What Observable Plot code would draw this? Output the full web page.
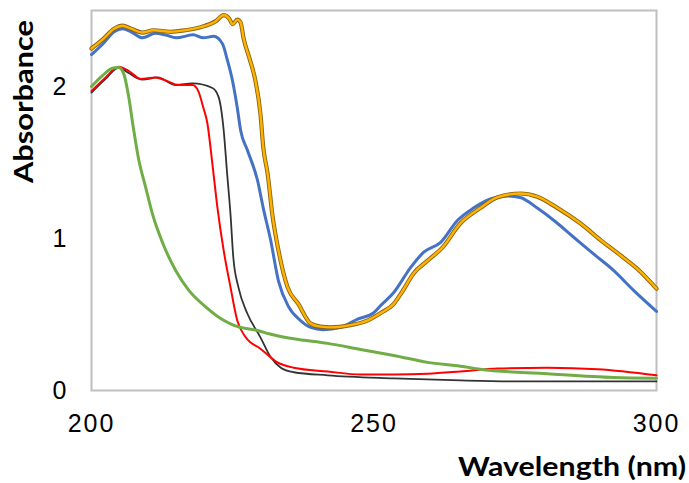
<!DOCTYPE html>
<html><head><meta charset="utf-8">
<script src="https://cdn.jsdelivr.net/npm/d3@7"></script>
<script src="https://cdn.jsdelivr.net/npm/@observablehq/plot@0.6"></script>
<style>
body{margin:0;background:#fff}
#chart svg{display:block}
</style>
</head><body><div id="chart"></div>
<script>
// Axis ticks
const xTicks = [200, 250, 300];
const yTicks = [0, 1, 2];
const xTitle = "Wavelength (nm)";
const yTitle = "Absorbance";

// Series: [wavelength nm, absorbance]
const orangeSeries = [[200,2.25],[202,2.31],[204,2.38],[205.5,2.40],[207,2.38],[209,2.355],[211,2.37],[214,2.36],[216.6,2.37],[219.3,2.39],[222,2.43],[223.4,2.47],[224.3,2.45],[225,2.41],[225.8,2.44],[226.4,2.42],[226.9,2.32],[228,2.18],[229,2.04],[229.9,1.82],[230.4,1.60],[231.2,1.42],[232,1.16],[233.1,0.92],[234.7,0.68],[236.6,0.57],[238.8,0.44],[240.5,0.42],[242.3,0.415],[245.8,0.43],[248.8,0.46],[251.2,0.51],[253.5,0.57],[255,0.65],[257,0.77],[259.5,0.855],[262.1,0.94],[265.3,1.10],[268.8,1.20],[271.8,1.27],[275.9,1.296],[278.9,1.275],[282.5,1.20],[286.5,1.10],[290.1,0.99],[293.6,0.89],[297.2,0.78],[300,0.67]];
const blueSeries = [[200,2.21],[202,2.28],[204,2.36],[205.5,2.38],[207,2.36],[209,2.32],[211.3,2.35],[213,2.34],[215,2.32],[218,2.34],[219.8,2.32],[221.6,2.33],[223.2,2.28],[224,2.18],[225,2.03],[225.8,1.86],[226.4,1.71],[227.6,1.58],[229.4,1.38],[230.4,1.20],[231.7,0.99],[233.1,0.72],[234.9,0.55],[237,0.46],[238.8,0.415],[241,0.40],[244.1,0.415],[247.1,0.47],[249.9,0.51],[251.2,0.56],[253.5,0.645],[256.5,0.81],[258.8,0.91],[261.8,0.975],[264.8,1.12],[267.6,1.20],[270.6,1.26],[273.6,1.28],[275.9,1.27],[278.9,1.20],[281.8,1.12],[285.3,1.01],[288.8,0.90],[292.4,0.79],[295.9,0.66],[300,0.52]];
const redSeries = [[200,1.97],[202.5,2.06],[204.8,2.13],[206.5,2.105],[208.7,2.05],[211.3,2.06],[213.1,2.04],[215.4,2.01],[217.9,2.01],[218.9,1.97],[219.8,1.86],[220.5,1.76],[221.4,1.49],[222.3,1.20],[223.4,0.92],[224.6,0.68],[225.8,0.46],[227.3,0.35],[229.9,0.275],[232.9,0.185],[235.8,0.15],[241.8,0.125],[247.6,0.105],[253.5,0.105],[259.5,0.11],[265.3,0.125],[271.9,0.145],[280.7,0.15],[289.6,0.14],[300,0.10]];
const blackSeries = [[200,1.96],[202.5,2.05],[204.8,2.125],[206.5,2.09],[209,2.045],[211.7,2.06],[214.9,2.01],[217.9,2.02],[221.4,1.99],[222.5,1.93],[223.4,1.71],[224,1.43],[224.6,1.16],[225.1,0.875],[226,0.68],[227.6,0.505],[229.9,0.35],[231.7,0.22],[233.5,0.15],[235.8,0.12],[241.8,0.10],[253.5,0.08],[265.3,0.066],[274.7,0.06],[300,0.06]];
const greenSeries = [[200,2.00],[201.9,2.07],[203.7,2.12],[204.8,2.125],[205.7,2.085],[206.5,1.95],[207.4,1.73],[208.3,1.53],[209.6,1.335],[210.8,1.16],[212.6,0.97],[214.9,0.79],[217.2,0.66],[220.2,0.55],[223,0.47],[225.1,0.43],[229.9,0.39],[231.2,0.375],[235.8,0.34],[241.8,0.31],[247.6,0.27],[253.5,0.23],[259.5,0.185],[265.3,0.16],[268.8,0.14],[280.7,0.11],[292.4,0.085],[300,0.08]];

const toRows = (arr) => arr.map(([nm, a]) => ({nm, a}));
const lineOpts = {x: "nm", y: "a", curve: "monotone-x", strokeLinejoin: "round", strokeLinecap: "round"};

const chart = Plot.plot({
  width: 689,
  height: 483,
  marginLeft: 91,
  marginRight: 33,
  marginTop: 10,
  marginBottom: 93,
  style: {fontFamily: "'Liberation Sans', Arial, sans-serif", background: "#fff"},
  x: {domain: [200, 300]},
  y: {domain: [0, 2.5]},
  marks: [
    Plot.axisX({ticks: xTicks, tickSize: 0, tickPadding: 24, fontSize: 25, label: null, tickFormat: d => String(d)}),
    Plot.axisY({ticks: yTicks, tickSize: 0, tickPadding: 25, fontSize: 25, label: null, tickFormat: d => String(d)}),
    Plot.frame({stroke: "#bfbfbf", strokeWidth: 2}),
    Plot.line(toRows(blackSeries), {...lineOpts, stroke: "#333333", strokeWidth: 1.8}),
    Plot.line(toRows(redSeries), {...lineOpts, stroke: "#ff0000", strokeWidth: 2}),
    Plot.line(toRows(greenSeries), {...lineOpts, stroke: "#70ad47", strokeWidth: 3}),
    Plot.line(toRows(blueSeries), {...lineOpts, stroke: "#4472c4", strokeWidth: 3}),
    Plot.line(toRows(orangeSeries), {...lineOpts, stroke: "#8a6410", strokeWidth: 4.2}),
    Plot.line(toRows(orangeSeries), {...lineOpts, stroke: "#ffb300", strokeWidth: 2.4})
  ]
});

const svg = d3.select(chart);
svg.selectAll('[aria-label="x-axis tick label"] text').style("letter-spacing", "2px");
svg.append("text")
  .attr("transform", "translate(33,101.5) rotate(-90)")
  .attr("text-anchor", "middle")
  .attr("font-family", "Lato, 'Open Sans', sans-serif")
  .attr("font-weight", "bold")
  .attr("font-size", 26)
  .attr("textLength", 163)
  .attr("lengthAdjust", "spacingAndGlyphs")
  .attr("fill", "#000")
  .text(yTitle);
svg.append("text")
  .attr("x", 686)
  .attr("y", 476)
  .attr("text-anchor", "end")
  .attr("font-family", "Lato, 'Open Sans', sans-serif")
  .attr("font-weight", "bold")
  .attr("font-size", 26)
  .attr("textLength", 228)
  .attr("lengthAdjust", "spacingAndGlyphs")
  .attr("fill", "#000")
  .text(xTitle);

document.getElementById("chart").appendChild(chart);
</script>
</body></html>
